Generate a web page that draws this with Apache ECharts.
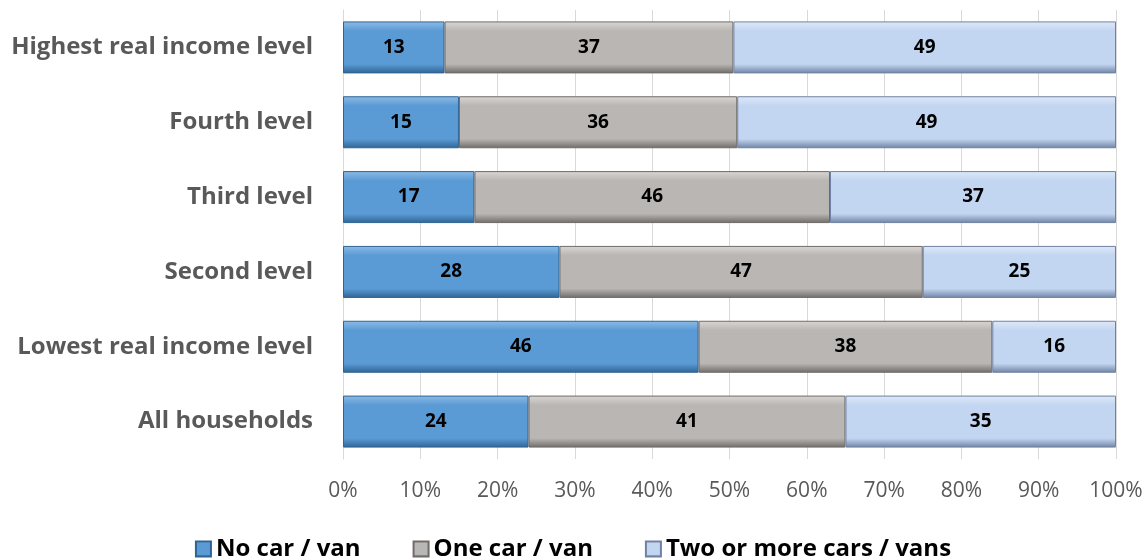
<!DOCTYPE html>
<html>
<head>
<meta charset="utf-8">
<script src="https://cdn.jsdelivr.net/npm/echarts@6/dist/echarts.min.js"></script>
<style>
  html, body { margin: 0; padding: 0; background: #fff; }
  #chartBox { width: 1146px; height: 558px; }
</style>
</head>
<body>
<div id="chartBox"></div>
<script>
// categories bottom -> top (yAxis category order)
const categories = [
  'All households',
  'Lowest real income level',
  'Second level',
  'Third level',
  'Fourth level',
  'Highest real income level'
];
const seriesNames = ['No car / van', 'One car / van', 'Two or more cars / vans'];
const noCar = [24, 46, 28, 17, 15, 13];
const oneCar = [41, 38, 47, 46, 36, 37];
const twoPlus = [35, 16, 25, 37, 49, 49];
const tickLabels = ['0%', '10%', '20%', '30%', '40%', '50%', '60%', '70%', '80%', '90%', '100%'];

const palette = [
  { light: '#8dbbe6', base: '#5b9bd5', dark: '#2f6494' },
  { light: '#d9d6d4', base: '#bab6b3', dark: '#6f6b69' },
  { light: '#dfe9f8', base: '#c3d6f1', dark: '#6f82a3' }
];

function bevel(p) {
  return {
    type: 'linear', x: 0, y: 0, x2: 0, y2: 1,
    colorStops: [
      { offset: 0, color: p.light },
      { offset: 0.18, color: p.base },
      { offset: 0.82, color: p.base },
      { offset: 1, color: p.dark }
    ]
  };
}

const chart = echarts.init(document.getElementById('chartBox'));

// 100% stacked: each row scaled to its own total, labels keep the read values
const dataSets = [noCar, oneCar, twoPlus];
const totals = categories.map(function (c, j) {
  return noCar[j] + oneCar[j] + twoPlus[j];
});
const series = dataSets.map(function (d, i) {
  return {
    name: seriesNames[i],
    type: 'bar',
    stack: 'total',
    barWidth: 52,
    data: d.map(function (v, j) {
      return { value: v / totals[j] * 100, raw: v };
    }),
    itemStyle: {
      color: bevel(palette[i]),
      borderColor: palette[i].dark,
      borderWidth: 1
    },
    label: {
      show: true,
      position: 'inside',
      color: '#000',
      fontWeight: 'bold',
      fontSize: 19,
      fontFamily: 'Open Sans',
      formatter: function (p) { return p.data.raw; }
    }
  };
});

const option = {
  animation: false,
  grid: { left: 343, right: 30, top: 10, bottom: 99 },
  legend: {
    top: 532,
    left: 'center',
    itemWidth: 15,
    itemHeight: 15,
    itemGap: 52,
    icon: 'rect',
    textStyle: { fontSize: 24, fontWeight: 'bold', color: '#000', fontFamily: 'Open Sans' },
    data: seriesNames
  },
  xAxis: {
    type: 'value',
    min: 0,
    max: 100,
    interval: 10,
    axisLine: { show: false },
    axisTick: { show: false },
    splitLine: { lineStyle: { color: '#d9d9d9', width: 1 } },
    axisLabel: {
      margin: 22,
      fontSize: 21,
      color: '#595959',
      fontFamily: 'Open Sans',
      formatter: function (v) { return tickLabels[Math.round(v / 10)]; }
    }
  },
  yAxis: {
    type: 'category',
    data: categories,
    axisLine: { show: true, lineStyle: { color: '#d9d9d9' } },
    axisTick: { show: false },
    axisLabel: {
      margin: 30,
      fontSize: 24,
      fontWeight: 'bold',
      color: '#595959',
      fontFamily: 'Open Sans'
    }
  },
  series: series
};

chart.setOption(option);
</script>
</body>
</html>
